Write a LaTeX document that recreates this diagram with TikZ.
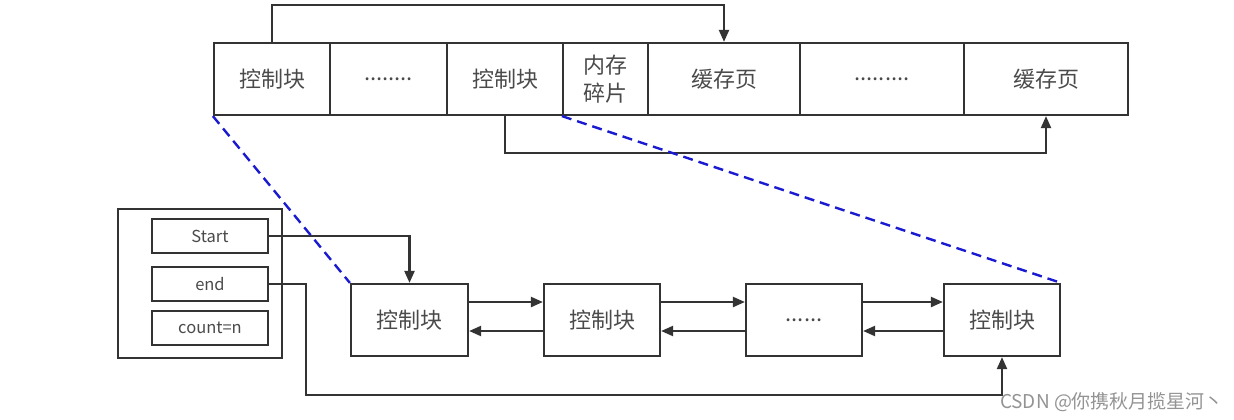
\documentclass[tikz,border=0pt]{standalone}
\usepackage{fontspec}
\usepackage{tikz}
\usetikzlibrary{arrows.meta}
\newfontfamily\cjk{Noto Sans CJK SC}
\definecolor{linegray}{HTML}{333333}
\definecolor{textgray}{HTML}{4A4A4A}
\definecolor{dashblue}{HTML}{1A1AD0}

\begin{document}
\begin{tikzpicture} [x=1pt, y=-1pt,
					cell/.style = {draw=linegray,
					    line width = 2.2pt,
					    rectangle,
					    inner sep = 0pt,
					    minimum height = 72pt,
					    text = textgray,
					    font = \cjk\fontsize{22}{26}\selectfont,
					    align = center},
					field/.style = {draw=linegray,
					    line width = 2.2pt,
					    rectangle,
					    inner sep = 0pt,
					    minimum width = 116pt,
					    minimum height = 34pt,
					    text = textgray,
					    font = \cjk\fontsize{16.5}{18}\selectfont},
					link/.style = {draw=linegray,
					    line width = 2.2pt,
					    -{Triangle[length=12pt, width=10pt]}},
					span/.style = {draw=dashblue,
					    line width = 2.4pt,
					    dash pattern = on 10pt off 6pt}]

					\useasboundingbox (0,0) rectangle (1234,420);

					% memory pool
					\node (c1) at (272,79) [cell, minimum width=116pt] {控制块};
					\node (c2) at (388.5,79) [cell, minimum width=117pt] {........};
					\node (c3) at (505,79) [cell, minimum width=116pt] {控制块};
					\node (c4) at (605.5,79) [cell, minimum width=85pt] {内存\\[2pt]碎片};
					\node (c5) at (724,79) [cell, minimum width=152pt] {缓存页};
					\node (c6) at (882,79) [cell, minimum width=164pt] {.........};
					\node (c7) at (1046,79) [cell, minimum width=164pt] {缓存页};

					\coordinate (topy) at (0,5);
					\coordinate (boty) at (0,153);
					\draw [link] (c1.north) -- (c1.north |- topy) -| (c5.north);
					\draw [link] (c3.south) -- (c3.south |- boty) -| (c7.south);

					% list head
					\node (head) at (200,283.5) [draw=linegray, line width=2.2pt,
					    minimum width=164pt, minimum height=149pt] {};
					\node (s) at (210,236) [field] {Start};
					\node (e) at (210,284) [field] {end};
					\node (n) at (210,328) [field] {count=n};

					% control blocks
					\node (k1) at (409.5,320) [cell, minimum width=117pt] {控制块};
					\node (k2) at (602,320) [cell, minimum width=116pt] {控制块};
					\node (k3) at (804,320) [cell, minimum width=116pt] {......};
					\node (k4) at (1002,320) [cell, minimum width=116pt] {控制块};

					\draw [link] ([yshift=18pt]k1.east) -- ([yshift=18pt]k2.west);
					\draw [link] ([yshift=-11pt]k2.west) -- ([yshift=-11pt]k1.east);
					\draw [link] ([yshift=18pt]k2.east) -- ([yshift=18pt]k3.west);
					\draw [link] ([yshift=-11pt]k3.west) -- ([yshift=-11pt]k2.east);
					\draw [link] ([yshift=18pt]k3.east) -- ([yshift=18pt]k4.west);
					\draw [link] ([yshift=-11pt]k4.west) -- ([yshift=-11pt]k3.east);

					\coordinate (ex) at (306,395);
					\draw [link] (s.east) -| (k1.north);
					\draw [link] (e.east) -| (ex) -| (k4.south);

					\draw [span] (c1.south west) -- (k1.north west);
					\draw [span] (c4.south west) -- (k4.north east);

					\node (mark) at (1112,402) [text=gray!85, font=\cjk\fontsize{19}{22}\selectfont] {CSDN @你携秋月揽星河丶};

				\end{tikzpicture}
\end{document}
